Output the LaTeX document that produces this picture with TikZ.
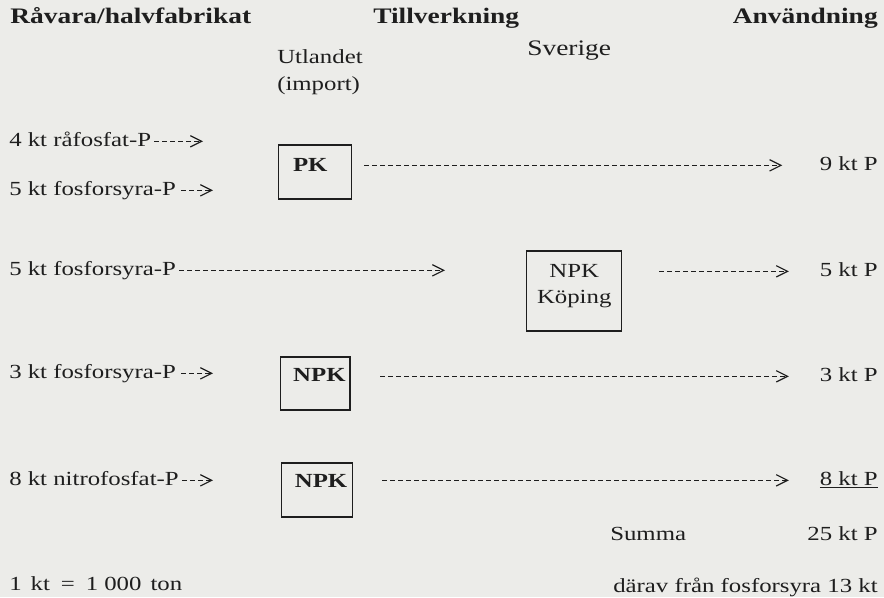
\documentclass[tikz,border=0pt]{standalone}
\usepackage{fontspec}
\setmainfont[FakeStretch=1.24]{Liberation Serif}
\usetikzlibrary{arrows.meta}
\definecolor{paper}{RGB}{236,236,233}
\definecolor{ink}{RGB}{30,30,30}
\begin{document}
\begin{tikzpicture}[x=0.75pt,y=-0.75pt,
  txt/.style={inner sep=0pt, text=ink, font=\fontsize{15}{19.5}\selectfont, text height=10.3pt, text depth=3.3pt},
  head/.style={inner sep=0pt, text=ink, font=\fontsize{16.6}{20}\selectfont\bfseries},
  big/.style={inner sep=0pt, text=ink, font=\fontsize{16.6}{20}\selectfont},
  cell/.style={draw=ink, line width=1.1pt, text=ink, inner ysep=0pt, inner xsep=0pt, align=center, font=\fontsize{15}{19.5}\selectfont},
  flow/.style={draw=ink, line width=0.8pt, dash pattern=on 3.75pt off 2.25pt, -{Straight Barb[length=8.5pt,width=8.5pt,line width=0.9pt]}},
]
\fill[paper] (0,0) rectangle (884,597);
\useasboundingbox (0,0) rectangle (884,597);

% headings
\node[head, anchor=base west] (h1) at (10,23) {Råvara/halvfabrikat};
\node[head, anchor=base west] (h2) at (373,23) {Tillverkning};
\node[head, anchor=base east] (h3) at (878,23) {Användning};
\node[txt, anchor=base west] (utl) at (277,63) {Utlandet};
\node[txt, anchor=base west] (imp) at (277,90) {(import)};
\node[big, anchor=base west] (sve) at (527,55) {Sverige};

% left labels
\node[txt, anchor=base west] (r1a) at (9,146) {4 kt råfosfat-P};
\node[txt, anchor=base west] (r1b) at (9,195) {5 kt fosforsyra-P};
\node[txt, anchor=base west] (r2) at (9,275) {5 kt fosforsyra-P};
\node[txt, anchor=base west] (r3) at (9,378) {3 kt fosforsyra-P};
\node[txt, anchor=base west] (r4) at (9,485) {8 kt nitrofosfat-P};
\node[txt, anchor=base west] (unit) at (9,590) {1\hspace{0.45em}kt\hspace{0.55em}=\hspace{0.55em}1\hspace{0.3em}000\hspace{0.45em}ton};

% boxes
\node[cell, text width=54.75pt, text height=19.5pt, text depth=21pt, anchor=base west] (pk) at (278,171) {\bfseries PK\hspace*{0.5em}};
\node[cell, text width=71.25pt, text height=19.5pt, text depth=40.5pt, anchor=base west] (kop) at (526,277) {NPK\\Köping};
\node[cell, text width=52pt, text height=18pt, text depth=21.75pt, anchor=base west] (n3) at (280,381) {\hspace*{0.4em}\bfseries NPK};
\node[cell, text width=53pt, text height=18pt, text depth=22.5pt, anchor=base west] (n4) at (281,487) {\hspace*{0.4em}\bfseries NPK};

% right column
\node[txt, anchor=base east] (o9) at (878,170) {9 kt P};
\node[txt, anchor=base east] (o5) at (878,276) {5 kt P};
\node[txt, anchor=base east] (o3) at (878,381) {3 kt P};
\node[txt, anchor=base east] (o8) at (878,485) {\underline{8 kt P}};
\node[txt, anchor=base west] (sum) at (610,540) {Summa};
\node[txt, anchor=base east] (tot) at (878,540) {25 kt P};
\node[txt, anchor=base east] (dar) at (878,592) {därav från fosforsyra 13 kt};

% free ends of the input arrows
\coordinate (a1) at (203,146);
\coordinate (a2) at (213,195);
\coordinate (a3) at (445,275);
\coordinate (a4) at (213,378);
\coordinate (a5) at (213,485);

\draw[flow, shorten <=2.25pt] (r1a.east) -- (r1a.east -| a1);
\draw[flow, shorten <=3.75pt] (r1b.east) -- (r1b.east -| a2);
\draw[flow, shorten <=2.25pt] (r2.east) -- (r2.east -| a3);
\draw[flow, shorten <=3.75pt] (r3.east) -- (r3.east -| a4);
\draw[flow, shorten <=2.25pt] (r4.east) -- (r4.east -| a5);

% output connectors
\draw[flow, shorten <=9pt, shorten >=28pt] (pk.east |- o9.west) -- (o9.west);
\draw[flow, shorten <=27.75pt, shorten >=23pt] (kop.east |- o5.west) -- (o5.west);
\draw[flow, shorten <=22pt, shorten >=23pt] (n3.east |- o3.west) -- (o3.west);
\draw[flow, shorten <=22pt, shorten >=23pt] (n4.east |- o8.west) -- (o8.west);
\end{tikzpicture}
\end{document}
